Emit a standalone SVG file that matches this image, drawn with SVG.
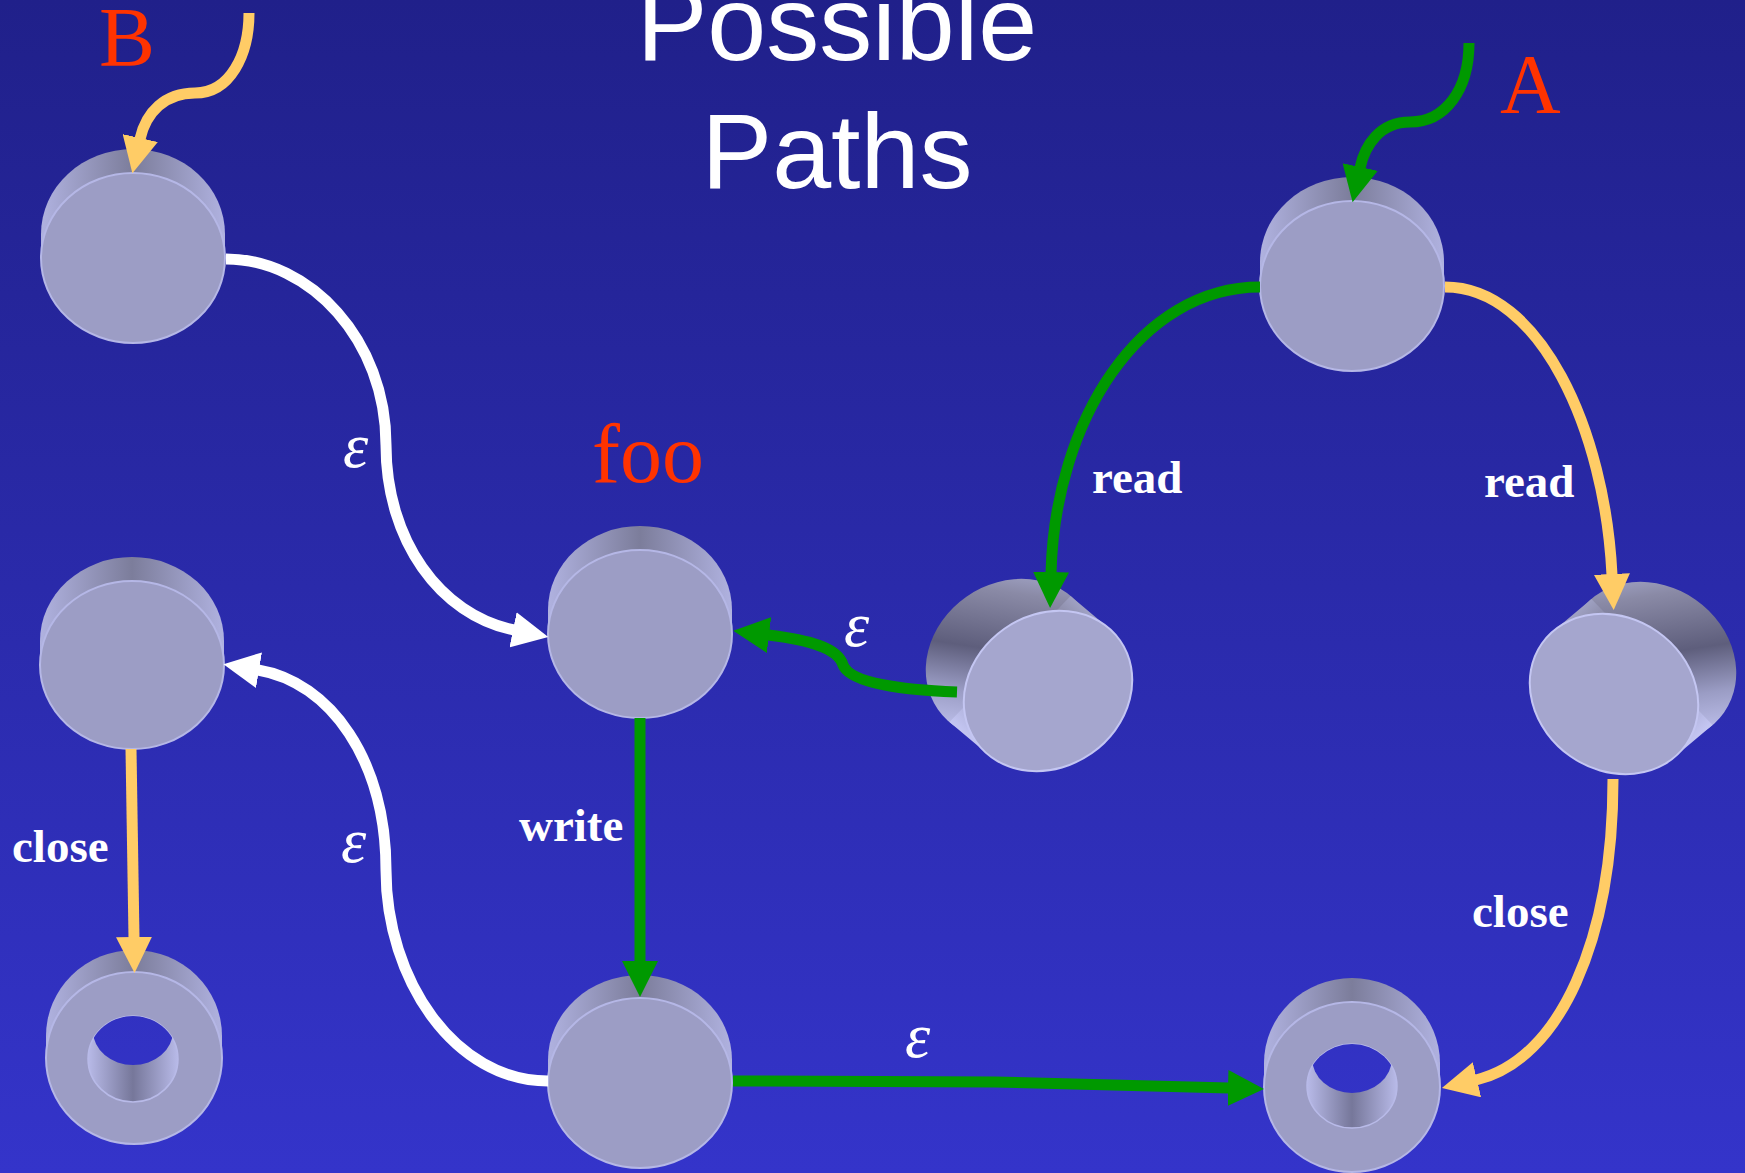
<svg xmlns="http://www.w3.org/2000/svg" width="1745" height="1173" viewBox="0 0 1745 1173">
<style>
.face{fill:#9c9dc5;stroke:#b5b7e6;stroke-width:2}
.tface{fill:#a5a6ce;stroke:#c4c6f2;stroke-width:2}
.side{fill:url(#gSide)}
.edge{fill:none;stroke-width:11}
.y{stroke:#ffcc66}
.g{stroke:#009900}
.w{stroke:#ffffff}
.lbl{font-family:"Liberation Serif","Times New Roman",serif;font-weight:bold;font-size:47px;fill:#ffffff}
.eps{font-family:"Liberation Serif","Times New Roman",serif;font-style:italic;font-size:64px;fill:#ffffff}
.red{font-family:"Liberation Serif","Times New Roman",serif;font-size:84px;fill:#ff3300}
.title{font-family:"Comic Sans MS","Liberation Sans",sans-serif;font-size:106px;fill:#ffffff;text-anchor:middle}
.hole{fill:url(#gWall);stroke:#b8bae8;stroke-width:1.5}
</style>
<defs>
<linearGradient id="gBg" gradientUnits="userSpaceOnUse" x1="0" y1="0" x2="0" y2="1173">
<stop offset="0" stop-color="#20208a"/>
<stop offset="1" stop-color="#3434ca"/>
</linearGradient>
<linearGradient id="gSide" x1="0" y1="0" x2="1" y2="0">
<stop offset="0" stop-color="#b0b2e0"/>
<stop offset="0.5" stop-color="#7c7d9b"/>
<stop offset="1" stop-color="#b0b2e0"/>
</linearGradient>
<linearGradient id="gWall" x1="0" y1="0" x2="1" y2="0">
<stop offset="0" stop-color="#b8bae8"/>
<stop offset="0.5" stop-color="#76779a"/>
<stop offset="1" stop-color="#b8bae8"/>
</linearGradient>
<linearGradient id="g7" gradientUnits="userSpaceOnUse" x1="968" y1="738" x2="1089" y2="612">
<stop offset="0" stop-color="#c4c6f2"/>
<stop offset="0.27" stop-color="#9a9cc4"/>
<stop offset="0.53" stop-color="#5e5e7c"/>
<stop offset="0.87" stop-color="#8a8aa6"/>
<stop offset="1" stop-color="#a0a2c4"/>
</linearGradient>
<linearGradient id="g8" gradientUnits="userSpaceOnUse" x1="1693.5" y1="741" x2="1572.5" y2="615">
<stop offset="0" stop-color="#c4c6f2"/>
<stop offset="0.27" stop-color="#9a9cc4"/>
<stop offset="0.53" stop-color="#5e5e7c"/>
<stop offset="0.87" stop-color="#8a8aa6"/>
<stop offset="1" stop-color="#a0a2c4"/>
</linearGradient>
<clipPath id="c6"><ellipse cx="133" cy="1059" rx="45" ry="43"/></clipPath>
<clipPath id="c9"><ellipse cx="1352" cy="1086" rx="45" ry="42"/></clipPath>
<marker id="aY" markerUnits="userSpaceOnUse" viewBox="0 0 36 36" markerWidth="36" markerHeight="36" refX="1" refY="18" orient="auto"><path d="M0,0 L36,18 L0,36 z" fill="#ffcc66"/></marker>
<marker id="aG" markerUnits="userSpaceOnUse" viewBox="0 0 36 36" markerWidth="36" markerHeight="36" refX="1" refY="18" orient="auto"><path d="M0,0 L36,18 L0,36 z" fill="#009900"/></marker>
<marker id="aW" markerUnits="userSpaceOnUse" viewBox="0 0 36 36" markerWidth="36" markerHeight="36" refX="1" refY="18" orient="auto"><path d="M0,0 L36,18 L0,36 z" fill="#ffffff"/></marker>
</defs>
<rect x="0" y="0" width="1745" height="1173" fill="url(#gBg)"/>

<g id="title">
<text class="title" x="837" y="60">Possible</text>
<text class="title" x="837" y="188">Paths</text>
</g>

<g id="n1">
<ellipse class="side" cx="133" cy="234" rx="92" ry="85"/>
<rect class="side" x="41" y="234" width="184" height="24"/>
<ellipse class="face" cx="133" cy="258" rx="92" ry="85"/>
</g>

<g id="n2">
<ellipse class="side" cx="1352" cy="262" rx="92" ry="85"/>
<rect class="side" x="1260" y="262" width="184" height="24"/>
<ellipse class="face" cx="1352" cy="286" rx="92" ry="85"/>
</g>

<g id="n3">
<ellipse class="side" cx="640" cy="610" rx="92" ry="84"/>
<rect class="side" x="548" y="610" width="184" height="24"/>
<ellipse class="face" cx="640" cy="634" rx="92" ry="84"/>
</g>

<g id="n4">
<ellipse class="side" cx="132" cy="641" rx="92" ry="84"/>
<rect class="side" x="40" y="641" width="184" height="24"/>
<ellipse class="face" cx="132" cy="665" rx="92" ry="84"/>
</g>

<g id="n5">
<ellipse class="side" cx="640" cy="1060" rx="92" ry="85"/>
<rect class="side" x="548" y="1060" width="184" height="23"/>
<ellipse class="face" cx="640" cy="1083" rx="92" ry="85"/>
</g>

<g id="n6">
<ellipse class="side" cx="134" cy="1036" rx="88" ry="86"/>
<rect class="side" x="46" y="1036" width="176" height="22"/>
<ellipse class="face" cx="134" cy="1058" rx="88" ry="86"/>
<ellipse class="hole" cx="133" cy="1059" rx="45" ry="43"/>
<ellipse cx="133" cy="1031" rx="40" ry="34" fill="url(#gBg)" clip-path="url(#c6)"/>
</g>

<g id="n9">
<ellipse class="side" cx="1352" cy="1063" rx="88" ry="85"/>
<rect class="side" x="1264" y="1063" width="176" height="24"/>
<ellipse class="face" cx="1352" cy="1087" rx="88" ry="85"/>
<ellipse class="hole" cx="1352" cy="1086" rx="45" ry="42"/>
<ellipse cx="1352" cy="1058" rx="40" ry="35" fill="url(#gBg)" clip-path="url(#c9)"/>
</g>

<g id="n7">
<ellipse cx="1010" cy="659" rx="88" ry="76" transform="rotate(-35 1010 659)" fill="url(#g7)"/>
<polygon points="1108.5,628 1070.5,596 949.5,722 987.5,754" fill="url(#g7)"/>
<ellipse class="tface" cx="1048" cy="691" rx="88" ry="76" transform="rotate(-35 1048 691)"/>
</g>

<g id="n8">
<ellipse cx="1652" cy="662" rx="88" ry="76" transform="rotate(35 1652 662)" fill="url(#g8)"/>
<polygon points="1553.5,631 1591.5,599 1712.5,725 1674.5,757" fill="url(#g8)"/>
<ellipse class="tface" cx="1614" cy="694" rx="88" ry="76" transform="rotate(35 1614 694)"/>
</g>

<g id="connectors">
<path class="edge y" marker-end="url(#aY)" d="M249 13 C249 55 230 93 195 93 C165 93 146 112 140 139"/>
<path class="edge g" marker-end="url(#aG)" d="M1469 43 C1469 90 1445 122 1410 122 C1380 122 1365 145 1360 168"/>
<path class="edge w" marker-end="url(#aW)" d="M226 259 C310 259 386 340 386 445 C386 540 440 615 514 630"/>
<path class="edge g" marker-end="url(#aG)" d="M1260 287 C1140 287 1055 420 1051 573"/>
<path class="edge y" marker-end="url(#aY)" d="M1445 287 C1540 287 1605 430 1612 575"/>
<path class="edge g" marker-end="url(#aG)" d="M957 692 C900 690 850 683 843 665 C838 648 810 640 768 635"/>
<path class="edge g" marker-end="url(#aG)" d="M640 718 L640 962"/>
<path class="edge y" marker-end="url(#aY)" d="M131 749 L134 938"/>
<path class="edge w" marker-end="url(#aW)" d="M548 1081 C455 1081 386 980 386 870 C386 760 330 682 258 670"/>
<path class="edge g" marker-end="url(#aG)" d="M733 1081 L995 1082 L1229 1088"/>
<path class="edge y" marker-end="url(#aY)" d="M1613 779 C1613 940 1560 1060 1476 1080"/>
</g>

<g id="labels">
<text class="red" x="99" y="66">B</text>
<text class="red" x="1500" y="113">A</text>
<text class="red" x="592" y="482">foo</text>
<text class="lbl" x="1092" y="493">read</text>
<text class="lbl" x="1484" y="497">read</text>
<text class="lbl" x="519" y="841">write</text>
<text class="lbl" x="12" y="862">close</text>
<text class="lbl" x="1472" y="927">close</text>
<text class="eps" x="343" y="467">ε</text>
<text class="eps" x="341" y="862">ε</text>
<text class="eps" x="844" y="646">ε</text>
<text class="eps" x="905" y="1057">ε</text>
</g>
</svg>
